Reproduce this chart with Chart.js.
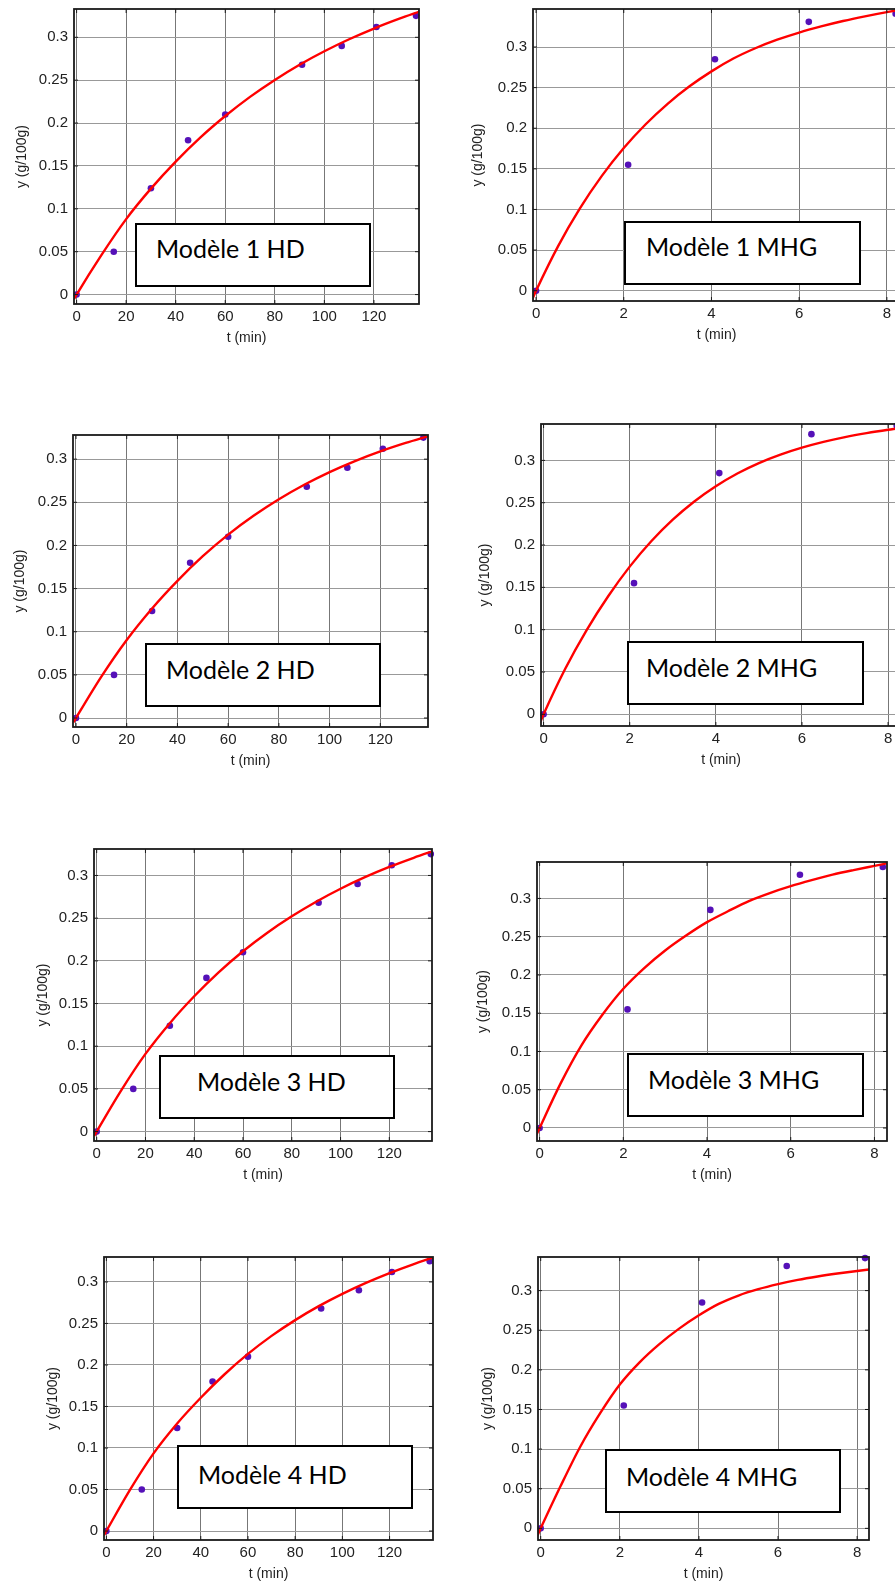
<!DOCTYPE html>
<html><head><meta charset="utf-8">
<script src="https://cdn.jsdelivr.net/npm/chart.js@4.4.0/dist/chart.umd.min.js"></script>
<style>
html,body{margin:0;padding:0;background:#fff;overflow:hidden;width:895px;height:1582px;}
#wrap{position:relative;width:895px;height:1582px;overflow:hidden;background:#fff;}
#wrap canvas{position:absolute;}
.box{position:absolute;box-sizing:border-box;border:2px solid #000;background:#fff;}
.box span{position:absolute;font-family:Lato,'Open Sans',sans-serif;font-size:25px;line-height:0;white-space:nowrap;color:#000;}
</style></head>
<body><div id="wrap"></div>
<script>
// ---------- data ----------
const hdT   = [0, 15, 30, 45, 60, 91, 107, 121, 137];
const hdY   = [0, 0.05, 0.124, 0.18, 0.21, 0.268, 0.29, 0.312, 0.325];
const mhgT  = [0, 2.1, 4.08, 6.22, 8.2];
const mhgY  = [0, 0.155, 0.285, 0.331, 0.341];

const hdCurveT = [-1, 0, 10, 20, 30, 40, 50, 60, 70, 80, 90, 100, 110, 120, 130, 139];
const hd1Curve = [-0.005, 0, 0.046, 0.088, 0.1235, 0.155, 0.1833, 0.2082, 0.2305, 0.2503, 0.268, 0.2837, 0.2977, 0.3102, 0.3214, 0.3306];
const hd2Curve = [-0.005, 0, 0.048, 0.0905, 0.127, 0.159, 0.1875, 0.2125, 0.2343, 0.2535, 0.2703, 0.285, 0.2978, 0.309, 0.3188, 0.3267];
const hd3Curve = [-0.005, 0, 0.048, 0.091, 0.127, 0.1585, 0.1865, 0.2113, 0.2330, 0.2522, 0.2693, 0.2845, 0.298, 0.310, 0.3207, 0.3296];
const hd4Curve = [-0.005, 0, 0.0495, 0.0935, 0.1295, 0.1605, 0.1885, 0.2133, 0.2350, 0.2540, 0.2708, 0.2856, 0.2988, 0.3106, 0.3212, 0.3299];

const mhgCurveT = [-0.1, 0, 0.5, 1, 1.5, 2, 2.5, 3, 3.5, 4, 4.5, 5, 5.5, 6, 6.5, 7, 7.5, 8, 8.5];
const mhg1Curve = [-0.012, 0, 0.0546, 0.1013, 0.1413, 0.1756, 0.2049, 0.2301, 0.2516, 0.2700, 0.2858, 0.2985, 0.309, 0.3178, 0.3253, 0.332, 0.3378, 0.343, 0.3477];
const mhg2Curve = [-0.012, 0, 0.0535, 0.0995, 0.1395, 0.1745, 0.2045, 0.2300, 0.2515, 0.2695, 0.2845, 0.2968, 0.3068, 0.3150, 0.3218, 0.3275, 0.3322, 0.3362, 0.3397];
const mhg3Curve = [-0.012, 0, 0.058, 0.108, 0.148, 0.182, 0.209, 0.232, 0.2515, 0.269, 0.2832, 0.2965, 0.307, 0.316, 0.3238, 0.331, 0.337, 0.3425, 0.348];
const mhg4Curve = [-0.011, 0, 0.053, 0.103, 0.145, 0.1815, 0.2095, 0.2325, 0.2520, 0.2688, 0.2832, 0.2938, 0.3018, 0.3082, 0.3135, 0.3178, 0.3215, 0.3248, 0.3278];

const hdXTicks  = [0, 20, 40, 60, 80, 100, 120];
const hdXLabels = ['0', '20', '40', '60', '80', '100', '120'];
const mhgXTicks  = [0, 2, 4, 6, 8];
const mhgXLabels = ['0', '2', '4', '6', '8'];
const yTicks  = [0, 0.05, 0.1, 0.15, 0.2, 0.25, 0.3];
const yLabels = ['0', '0.05', '0.1', '0.15', '0.2', '0.25', '0.3'];

const boxTexts = ['Modèle 1 HD', 'Modèle 1 MHG', 'Modèle 2 HD', 'Modèle 2 MHG',
                  'Modèle 3 HD', 'Modèle 3 MHG', 'Modèle 4 HD', 'Modèle 4 MHG'];
const xTitle = 't (min)';
const yTitle = 'y (g/100g)';

// ---------- layout (positions / ranges) ----------
const panels = [
  {kind:'hd',  curve:hd1Curve,  L:74,  T:9,    R:419, B:304,  titleX:22,  xmin:-1.05, xmax:138.2, ymin:-0.011,  ymax:0.333,  box:{l:135, t:223,  w:236, h:64, tx:21, base:35}},
  {kind:'mhg', curve:mhg1Curve, L:533, T:9,    R:900, B:301,  titleX:478, xmin:-0.07, xmax:8.3,   ymin:-0.0127, ymax:0.3468, box:{l:624, t:221,  w:237, h:64, tx:22, base:35}},
  {kind:'hd',  curve:hd2Curve,  L:73,  T:435,  R:428, B:727,  titleX:20,  xmin:-1.18, xmax:138.8, ymin:-0.0104, ymax:0.328,  box:{l:145, t:643,  w:236, h:64, tx:21, base:36}},
  {kind:'mhg', curve:mhg2Curve, L:541, T:424,  R:901, B:726,  titleX:485, xmin:-0.06, xmax:8.3,   ymin:-0.0138, ymax:0.343,  box:{l:627, t:641,  w:237, h:64, tx:19, base:36}},
  {kind:'hd',  curve:hd3Curve,  L:94,  T:849,  R:432, B:1141, titleX:43,  xmin:-1.1,  xmax:137.5, ymin:-0.011,  ymax:0.331,  box:{l:159, t:1055, w:236, h:64, tx:38, base:36}},
  {kind:'mhg', curve:mhg3Curve, L:537, T:862,  R:887, B:1141, titleX:483, xmin:-0.062,xmax:8.3,   ymin:-0.017,  ymax:0.3476, box:{l:627, t:1053, w:237, h:64, tx:21, base:36}},
  {kind:'hd',  curve:hd4Curve,  L:104, T:1257, R:433, B:1540, titleX:53,  xmin:-1.0,  xmax:138.4, ymin:-0.0108, ymax:0.330,  box:{l:177, t:1445, w:236, h:64, tx:21, base:39}},
  {kind:'mhg', curve:mhg4Curve, L:538, T:1257, R:869, B:1540, titleX:488, xmin:-0.068,xmax:8.3,   ymin:-0.0147, ymax:0.3424, box:{l:605, t:1449, w:236, h:64, tx:21, base:37}},
];

const TICK_FONT = 15, TITLE_FONT = 14;
const PAD_TOP = 6, PAD_RIGHT = 8, X_H = 43;

const framePlugin = {
  id: 'frame',
  afterDraw(chart) {
    const {ctx, chartArea: a, scales: {x, y}} = chart;
    ctx.save();
    ctx.strokeStyle = '#1a1a1a';
    ctx.lineWidth = 1;
    const len = 4;
    ctx.beginPath();
    x.ticks.forEach(t => {
      const p = x.getPixelForValue(t.value);
      ctx.moveTo(p, a.bottom); ctx.lineTo(p, a.bottom - len);
      ctx.moveTo(p, a.top); ctx.lineTo(p, a.top + len);
    });
    y.ticks.forEach(t => {
      const p = y.getPixelForValue(t.value);
      ctx.moveTo(a.left, p); ctx.lineTo(a.left + len, p);
      ctx.moveTo(a.right, p); ctx.lineTo(a.right - len, p);
    });
    ctx.stroke();
    ctx.lineWidth = 1.8;
    ctx.strokeRect(a.left, a.top, a.right - a.left, a.bottom - a.top);
    ctx.restore();
  }
};

const wrap = document.getElementById('wrap');

panels.forEach((p, i) => {
  const isHD = p.kind === 'hd';
  const yW = Math.round(p.L - p.titleX + TITLE_FONT * 1.2 / 2);
  const cl = p.L - yW, ct = p.T - PAD_TOP;
  const cw = yW + (p.R - p.L) + PAD_RIGHT;
  const ch = PAD_TOP + (p.B - p.T) + X_H;
  const cv = document.createElement('canvas');
  cv.width = cw; cv.height = ch;
  cv.style.left = cl + 'px'; cv.style.top = ct + 'px';
  cv.style.width = cw + 'px'; cv.style.height = ch + 'px';
  wrap.appendChild(cv);

  const ptsT = isHD ? hdT : mhgT, ptsY = isHD ? hdY : mhgY;
  const cT = isHD ? hdCurveT : mhgCurveT;
  const xt = isHD ? hdXTicks : mhgXTicks, xl = isHD ? hdXLabels : mhgXLabels;

  new Chart(cv, {
    type: 'scatter',
    data: {
      datasets: [
        {
          data: cT.map((t, k) => ({x: t, y: p.curve[k]})),
          showLine: true, pointRadius: 0, borderColor: '#ff0000', borderWidth: 2.4,
          cubicInterpolationMode: 'monotone', order: 0, clip: 0
        },
        {
          data: ptsT.map((t, k) => ({x: t, y: ptsY[k]})),
          showLine: false, pointRadius: 3.3, pointBackgroundColor: '#5511b8',
          pointBorderWidth: 0, order: 1, clip: 4
        }
      ]
    },
    options: {
      responsive: false, animation: false, devicePixelRatio: 1,
      layout: {padding: {top: PAD_TOP, right: PAD_RIGHT, left: 0, bottom: 0}},
      plugins: {legend: {display: false}, tooltip: {enabled: false}},
      scales: {
        x: {
          type: 'linear', min: p.xmin, max: p.xmax,
          afterBuildTicks: s => { s.ticks = xt.map(v => ({value: v})); },
          afterFit: s => { s.height = X_H; s.paddingLeft = 0; s.paddingRight = 0; },
          ticks: {autoSkip: false, maxRotation: 0, padding: 4, color: '#222',
                  font: {family: 'Liberation Sans', size: TICK_FONT},
                  callback: (v, k) => xl[k]},
          grid: {color: '#777', lineWidth: 1, drawTicks: false},
          border: {display: false},
          title: {display: true, text: xTitle, color: '#222', padding: 0,
                  font: {family: 'Liberation Sans', size: TITLE_FONT}}
        },
        y: {
          type: 'linear', min: p.ymin, max: p.ymax,
          afterBuildTicks: s => { s.ticks = yTicks.map(v => ({value: v})); },
          afterFit: s => { s.width = yW; s.paddingTop = 0; s.paddingBottom = 0; },
          ticks: {autoSkip: false, padding: 6, color: '#222',
                  font: {family: 'Liberation Sans', size: TICK_FONT},
                  callback: (v, k) => yLabels[k]},
          grid: {color: '#999', lineWidth: 1, drawTicks: false},
          border: {display: false},
          title: {display: true, text: yTitle, color: '#222', padding: 0,
                  font: {family: 'Liberation Sans', size: TITLE_FONT}}
        }
      }
    },
    plugins: [framePlugin]
  });

  const b = document.createElement('div');
  b.className = 'box';
  b.style.left = p.box.l + 'px'; b.style.top = p.box.t + 'px';
  b.style.width = p.box.w + 'px'; b.style.height = p.box.h + 'px';
  const s = document.createElement('span');
  s.textContent = boxTexts[i];
  s.style.left = (p.box.tx - 2) + 'px';
  s.style.top = (p.box.base - 2 - 9.7) + 'px';
  b.appendChild(s);
  wrap.appendChild(b);
});
</script>
</body></html>
